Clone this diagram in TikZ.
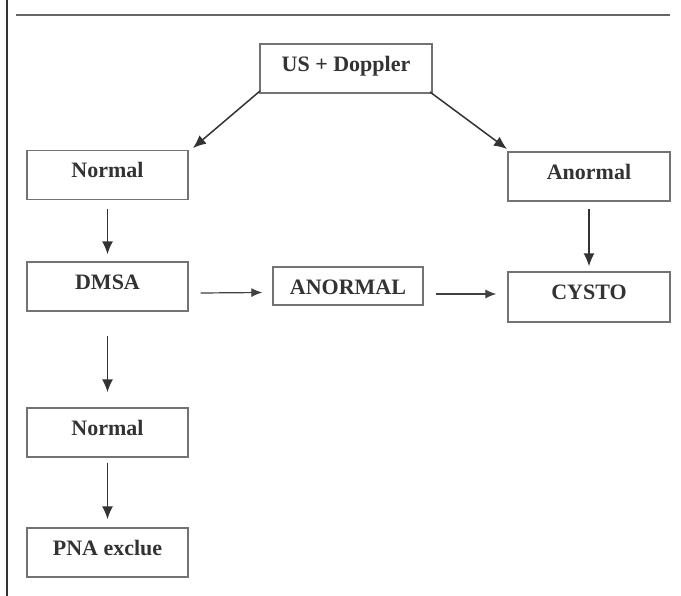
\documentclass[tikz,border=0pt]{standalone}
\usepackage{fontspec}
\setmainfont{Liberation Serif}
\usetikzlibrary{arrows.meta}
\begin{document}
\begin{tikzpicture}[x=1pt,y=-1pt,
  box/.style={draw=black!55,line width=1.3pt,inner sep=0pt,font=\fontsize{22}{24}\selectfont\bfseries,text=black!80,text depth=8pt,text height=14pt},
  arr/.style={draw=black!80,line width=1.5pt,-{Latex[length=13pt,width=11pt]}},
  arrs/.style={draw=black!75,line width=1.2pt,-{Latex[length=11pt,width=9pt]}}]
\useasboundingbox (0,0) rectangle (681,596);
\fill[white] (0,0) rectangle (681,596);
% frame lines
\draw[black!80,line width=2.5pt] (7,0) -- (7,596);
\draw[black!60,line width=1.8pt] (16,15) -- (670,15);
% boxes
\node[box,minimum width=172pt,minimum height=49pt] (us) at (346,68.5) {US + Doppler};
\node[box,minimum width=161pt,minimum height=49pt] (n1) at (107.5,175) {Normal};
\node[box,minimum width=162pt,minimum height=49pt] (an) at (589,176.5) {Anormal};
\node[box,minimum width=161pt,minimum height=49pt] (dmsa) at (107.5,286.5) {DMSA};
\node[box,minimum width=150pt,minimum height=38pt,text depth=2pt,text height=20pt] (AN) at (348,286) {ANORMAL};
\node[box,minimum width=162pt,minimum height=50pt] (cy) at (589,297) {CYSTO};
\node[box,minimum width=161pt,minimum height=49pt] (n2) at (107.5,432.5) {Normal};
\node[box,minimum width=161pt,minimum height=49pt] (pna) at (107.5,552.5) {PNA exclue};
% connector endpoints
\coordinate (a1s) at (260,91);
\coordinate (a1e) at (193,148);
\coordinate (a2s) at (430,92);
\coordinate (a2e) at (507,149);
% arrows
\draw[arr] (a1s) -- (a1e);
\draw[arr] (a2s) -- (a2e);
\draw[arr] ([yshift=-8.5pt]n1.south) -- ([yshift=7pt]dmsa.north);
\draw[arr] ([yshift=-7pt]an.south) -- ([yshift=5pt]cy.north);
\draw[arr] ([yshift=-24pt]dmsa.south) -- ([yshift=15pt]n2.north);
\draw[arr] ([yshift=-5pt]n2.south) -- ([yshift=8pt]pna.north);
\draw[arrs] ([xshift=12pt,yshift=-6.5pt]dmsa.east) -- ([xshift=-10pt,yshift=-6.5pt]AN.west);
\draw[arrs] ([xshift=12pt,yshift=-8pt]AN.east) -- ([xshift=-11pt,yshift=3pt]cy.west);
\end{tikzpicture}
\end{document}
